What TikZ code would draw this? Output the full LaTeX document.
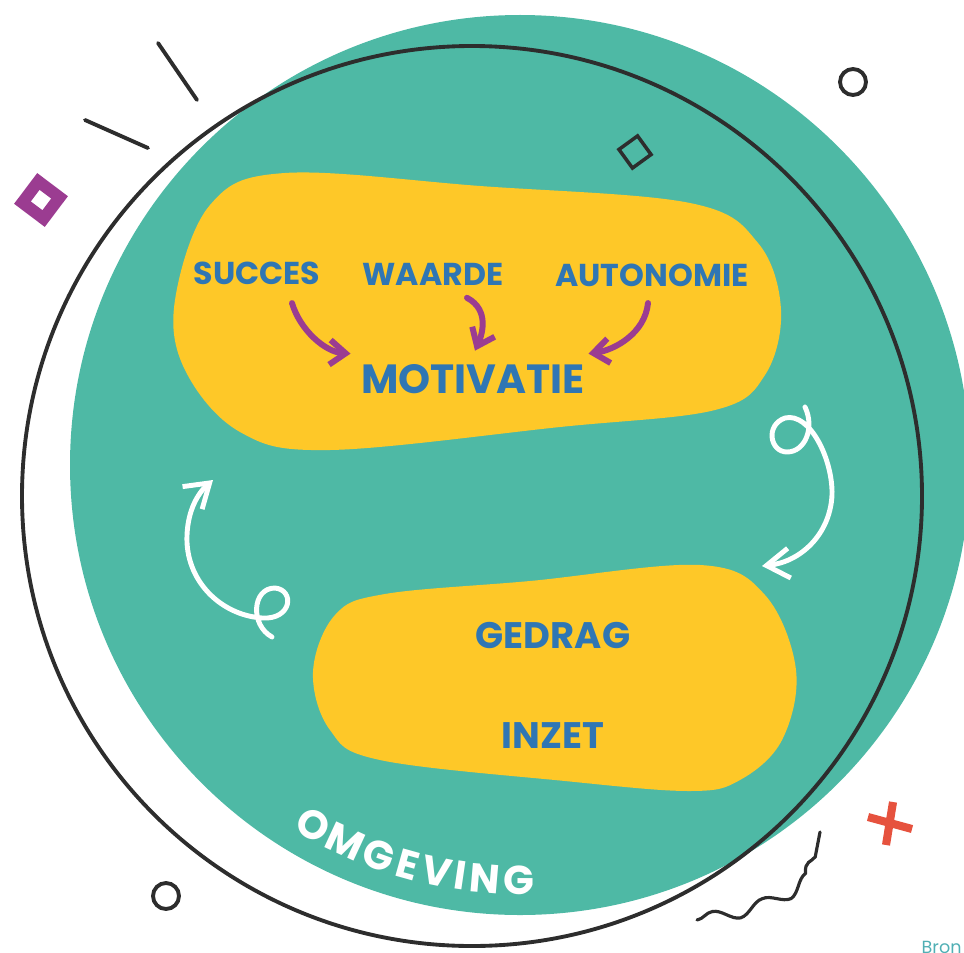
\documentclass[tikz,border=0pt]{standalone}
\usepackage{fontspec}
\setmainfont{Poppins}
\usetikzlibrary{arrows.meta,decorations.pathmorphing}

\definecolor{omgteal}{RGB}{78,185,165}
\definecolor{blobyellow}{RGB}{254,200,40}
\definecolor{wordblue}{RGB}{47,118,180}
\definecolor{arrowpurple}{RGB}{155,60,145}
\definecolor{crossred}{RGB}{230,82,62}
\definecolor{inkgrey}{RGB}{45,45,45}
\definecolor{bronteal}{RGB}{80,175,180}

\tikzset{
  blob/.style={fill=blobyellow},
  word/.style={text=wordblue, inner sep=0pt, font=\bfseries\fontsize{9}{10}\selectfont},
  bigword/.style={word, font=\bfseries\fontsize{11.6}{13}\selectfont},
  midword/.style={word, font=\bfseries\fontsize{10.5}{12}\selectfont},
  omgletter/.style={text=white, inner sep=0pt, font=\bfseries\fontsize{11.5}{13}\selectfont},
  feeds/.style={arrowpurple, line width=1.7pt, line cap=round, -{Straight Barb[length=4.5pt,width=7pt]}},
  loopy/.style={white, line width=1.4pt, line cap=round, -{Straight Barb[length=6.5pt,width=8.5pt]}},
  ink/.style={inkgrey, line width=1.1pt, line cap=round},
}

\begin{document}
\begin{tikzpicture}[x=0.1mm, y=-0.1mm]
\useasboundingbox (0,0) rectangle (964,952);

% disc, blobs and ring
\fill[omgteal] (520,465) circle (450);
\fill[blob] plot[smooth cycle, tension=0.6] coordinates {(175,300) (210,205) (285,173) (480,186) (690,203) (758,243) (781,310) (765,375) (715,410) (560,427) (330,450) (240,432) (185,370)};
\fill[blob] plot[smooth cycle, tension=0.6] coordinates {(313,672) (335,615) (385,594) (530,581) (700,565) (765,595) (796,670) (782,740) (740,780) (690,791) (565,781) (380,760) (330,730)};
\draw[ink] (472,496) circle (450);

% words
\node[word] (succes) at (257,273) {SUCCES};
\node[word] (waarde) at (433,274) {WAARDE};
\node[word] (autonomie) at (652,275) {AUTONOMIE};
\node[bigword] (motivatie) at (473,379) {MOTIVATIE};
\node[midword] (gedrag) at (553,635) {GEDRAG};
\node[midword] (inzet) at (553,736) {INZET};

\draw[feeds] ([shift={(35,18)}]succes.south) .. controls (300,330) and (325,352) .. ([shift={(-10,-10)}]motivatie.north west);
\draw[feeds] ([shift={(34,12)}]waarde.south) .. controls (490,310) and (482,335) .. ([shift={(2,-13)}]motivatie.north);
\draw[feeds] ([shift={(-4,16)}]autonomie.south) .. controls (645,333) and (615,350) .. ([shift={(3,-10)}]motivatie.north east);

% white loops
\coordinate (rtail) at (805,407);
\coordinate (rtip) at (762,566);
\coordinate (ltail) at (272,637);
\coordinate (ltip) at (213,480);
\draw[loopy] (rtail) .. controls (815,428) and (805,452) .. (787,452) .. controls (770,452) and (765,425) .. (785,418) .. controls (810,412) and (833,460) .. (832,495) .. controls (830,535) and (800,562) .. (rtip);
\draw[loopy] (ltail) .. controls (250,625) and (252,588) .. (275,588) .. controls (295,590) and (292,620) .. (262,618) .. controls (220,615) and (185,580) .. (187,535) .. controls (188,510) and (198,493) .. (ltip);

% omgeving, letter by letter round the rim
\foreach \ch/\ang [count=\i] in {O/119.9, M/114.9, G/109.9, E/105.7, V/101.6, I/98.3, N/94.9, G/90.2}
  \path (520,465) ++(\ang:415) node[omgletter, rotate=90-\ang] (omg\i) {\ch};

% bits around
\draw[ink] (158,43) -- (197,100);
\draw[ink] (85,120) -- (148,148);
\node[draw=arrowpurple, line width=3.4pt, minimum size=2.65mm, inner sep=0pt, rotate=-37] (pdiamond) at (41,200) {};
\node[draw=inkgrey, line width=1pt, minimum size=2.3mm, inner sep=0pt, rotate=36] (kdiamond) at (635,152) {};
\draw[ink] (853,82) circle (13);
\draw[ink] (166,896) circle (13);
\draw[crossred, line width=2.3pt] (893,802) -- (886,845) (868,817) -- (912,829);
\draw[ink, line width=0.9pt, decorate, decoration={snake, amplitude=1.7pt, segment length=15pt}] (697,920) .. controls (760,910) and (815,885) .. (820,832);
\node[anchor=north west, text=bronteal, inner sep=0pt, font=\fontsize{5}{6}\selectfont] (bron) at (921,941) {Bron};
\end{tikzpicture}
\end{document}
